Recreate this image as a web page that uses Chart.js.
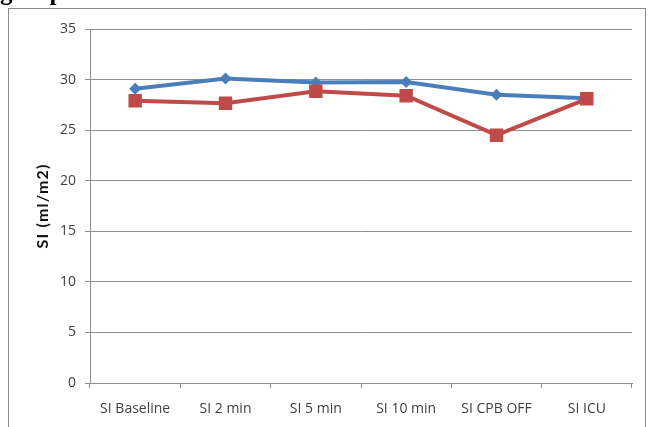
<!DOCTYPE html>
<html>
<head>
<meta charset="utf-8">
<script src="https://cdn.jsdelivr.net/npm/chart.js@4/dist/chart.umd.min.js"></script>
<style>
  html, body { margin: 0; padding: 0; background: #ffffff; }
  #wrap { position: relative; width: 652px; height: 427px; }
</style>
</head>
<body>
<div id="wrap"><canvas id="chart" width="652" height="427"></canvas></div>
<script>
// Stroke index at each measurement point, two patient groups
const categories = ['SI Baseline', 'SI 2 min', 'SI 5 min', 'SI 10 min', 'SI CPB OFF', 'SI ICU'];
const groupA = [29.1, 30.1, 29.7, 29.75, 28.5, 28.15];
const groupB = [27.9, 27.65, 28.85, 28.4, 24.5, 28.1];
const yTicks = [0, 5, 10, 15, 20, 25, 30, 35];
const yTitle = 'SI (ml/m2)';

const GRID = '#8e8e8e';
const TEXT = '#404040';
const TICK_FONT = { family: '"Open Sans", Lato, sans-serif', size: 14 };

// Frame around the chart, the caption text cut off above it, and the y-axis title
const framePlugin = {
  id: 'frame',
  beforeDraw(chart) {
    const ctx = chart.ctx;
    ctx.save();
    ctx.fillStyle = '#ffffff';
    ctx.fillRect(0, 0, chart.width, chart.height);
    ctx.strokeStyle = '#8a8a8a';
    ctx.lineWidth = 1;
    ctx.strokeRect(8.5, 8.5, 637, 440);
    ctx.fillStyle = '#000000';
    ctx.font = 'bold 25px "Liberation Serif", "Times New Roman", serif';
    ctx.textBaseline = 'alphabetic';
    ctx.fillText('groups', 0, 0);
    ctx.restore();
  },
  afterDraw(chart) {
    const ctx = chart.ctx;
    const area = chart.chartArea;
    ctx.save();
    ctx.translate(43, (area.top + area.bottom) / 2);
    ctx.rotate(-Math.PI / 2);
    ctx.fillStyle = '#111111';
    ctx.font = 'bold 16px Lato, "Open Sans", sans-serif';
    if ('letterSpacing' in ctx) ctx.letterSpacing = '1.2px';
    ctx.textAlign = 'center';
    ctx.textBaseline = 'middle';
    ctx.fillText(yTitle, 0, 0);
    ctx.restore();
  }
};

new Chart(document.getElementById('chart'), {
  type: 'line',
  data: {
    labels: categories,
    datasets: [
      {
        label: 'Group A',
        data: groupA,
        borderColor: '#4a7ebb',
        backgroundColor: '#4a7ebb',
        borderWidth: 4,
        pointStyle: 'rectRot',
        pointRadius: 6,
        pointBorderWidth: 0,
        tension: 0,
        order: 1
      },
      {
        label: 'Group B',
        data: groupB,
        borderColor: '#be4b48',
        backgroundColor: '#be4b48',
        borderWidth: 4,
        pointStyle: 'rect',
        pointRadius: 9.5,
        pointBorderWidth: 0,
        tension: 0,
        order: 0
      }
    ]
  },
  options: {
    responsive: false,
    animation: false,
    layout: { padding: { top: 29, right: 20, bottom: 0, left: 0 } },
    plugins: {
      legend: { display: false },
      tooltip: { enabled: false }
    },
    scales: {
      x: {
        offset: true,
        grid: {
          display: true,
          offset: true,
          drawOnChartArea: false,
          color: GRID,
          tickLength: 5,
          tickColor: GRID
        },
        border: { display: true, color: GRID, width: 1 },
        ticks: {
          color: TEXT,
          font: TICK_FONT,
          padding: 13,
          maxRotation: 0,
          autoSkip: false
        },
        afterFit(scale) { scale.height = 44; }
      },
      y: {
        min: 0,
        max: 35,
        afterBuildTicks(scale) { scale.ticks = yTicks.map(v => ({ value: v })); },
        grid: {
          color: GRID,
          tickLength: 5,
          tickColor: GRID
        },
        border: { display: true, color: GRID, width: 1 },
        ticks: {
          color: TEXT,
          font: TICK_FONT,
          padding: 9
        },
        afterFit(scale) { scale.width = 90; }
      }
    }
  },
  plugins: [framePlugin]
});
</script>
</body>
</html>
